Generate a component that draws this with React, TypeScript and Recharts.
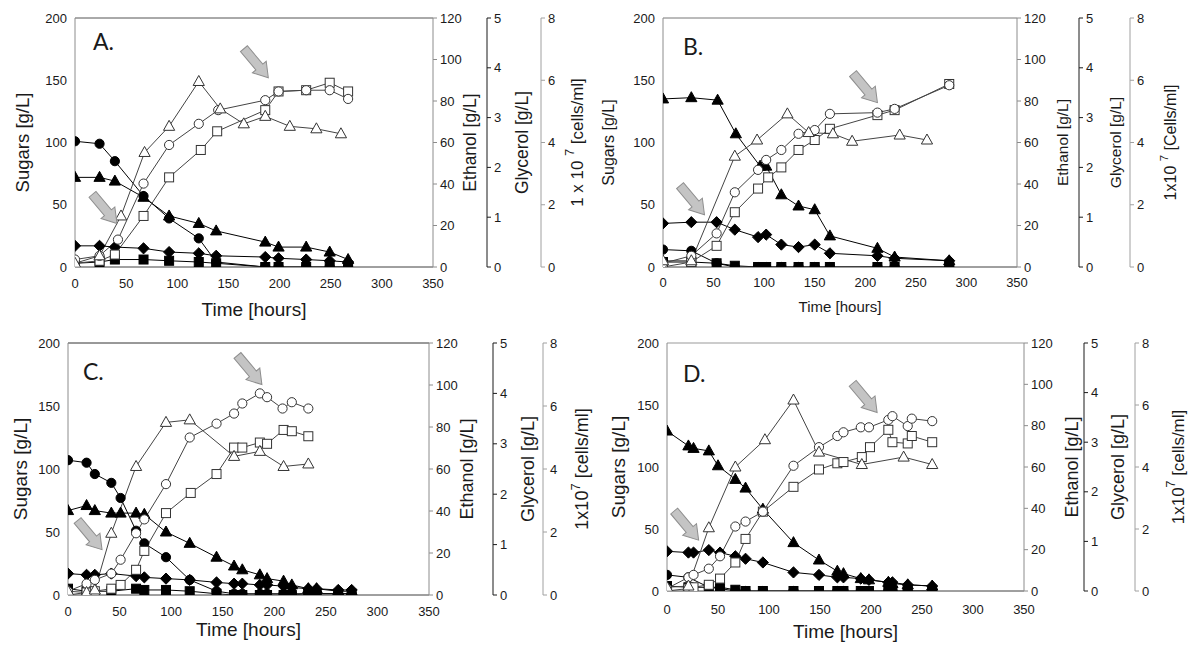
import React from "react";
import { LineChart, Line, XAxis, YAxis, ReferenceLine, ReferenceDot } from "recharts";

type Pt = [number, number];
type Kind = "circle" | "triangle" | "diamond" | "square";

// shared axes
const timeTicks = [0, 50, 100, 150, 200, 250, 300, 350];
const sugarTicks = [0, 50, 100, 150, 200];
const ethanolTicks = [0, 20, 40, 60, 80, 100, 120];
const glycerolTicks = [0, 1, 2, 3, 4, 5];
const cellTicks = [0, 2, 4, 6, 8];

// Panel A (all values read on the sugars scale, 0-200)
const aFilledCircle: Pt[] = [[0, 101], [24, 99], [39, 85], [67, 57], [92, 39], [121, 23], [138, 4], [186, 0], [199, 0], [226, 0], [249, 0], [267, 0]];
const aFilledTri: Pt[] = [[0, 72], [24, 72], [39, 69], [67, 56], [92, 41], [121, 35], [138, 29], [186, 20], [199, 16], [226, 16], [249, 12], [267, 6]];
const aFilledDiamond: Pt[] = [[0, 17], [24, 17], [39, 16], [67, 15], [92, 12], [121, 11], [138, 9], [186, 8], [199, 7], [226, 6], [249, 5], [267, 4]];
const aFilledSquare: Pt[] = [[0, 3], [24, 4], [39, 6], [67, 6], [92, 5], [121, 4], [138, 3], [186, 0], [199, 0], [226, 0], [249, 0], [267, 0]];
const aOpenCircle: Pt[] = [[0, 6], [24, 9], [42, 22], [67, 67], [92, 98], [121, 115], [140, 126], [186, 134], [199, 141], [226, 142], [249, 142], [267, 135]];
const aOpenTri: Pt[] = [[0, 3], [24, 9], [45, 41], [68, 92], [92, 113], [121, 149], [142, 127], [165, 115], [186, 121], [210, 113], [236, 111], [260, 107]];
const aOpenSquare: Pt[] = [[0, 3], [24, 5], [39, 10], [67, 41], [92, 72], [123, 94], [139, 109], [186, 126], [199, 141], [226, 142], [249, 148], [267, 141]];
const aArrows: Pt[] = [[41, 35], [189, 152]];

// Panel B
const bFilledCircle: Pt[] = [[0, 14], [28, 13], [53, 3], [71, 0], [94, 0], [102, 0], [117, 0], [134, 0], [150, 0], [165, 0], [212, 0], [229, 0], [283, 0]];
const bFilledTri: Pt[] = [[0, 135], [28, 136], [54, 134], [72, 107], [96, 81], [102, 81], [117, 58], [134, 49], [150, 46], [165, 25], [212, 15], [229, 8], [283, 5]];
const bFilledDiamond: Pt[] = [[0, 35], [28, 36], [53, 36], [71, 30], [94, 24], [102, 26], [117, 18], [134, 16], [150, 18], [165, 11], [212, 9], [229, 7], [283, 5]];
const bFilledSquare: Pt[] = [[0, 4], [28, 4], [53, 3], [71, 1], [94, 0], [102, 0], [117, 0], [134, 0], [150, 0], [165, 0], [212, 0], [229, 0], [283, 0]];
const bOpenCircle: Pt[] = [[0, 3], [28, 9], [53, 27], [71, 60], [94, 78], [102, 86], [117, 94], [134, 107], [150, 110], [165, 123], [212, 124], [229, 127], [283, 146]];
const bOpenTri: Pt[] = [[0, 5], [28, 5], [71, 89], [93, 102], [123, 123], [144, 108], [168, 107], [187, 101], [234, 106], [261, 102]];
const bOpenSquare: Pt[] = [[0, 0], [28, 4], [53, 17], [71, 44], [94, 63], [104, 72], [117, 80], [134, 94], [150, 102], [165, 111], [212, 122], [229, 126], [283, 147]];
const bArrows: Pt[] = [[41, 42], [212, 132]];

// Panel C
const cFilledCircle: Pt[] = [[0, 107], [18, 105], [26, 96], [42, 89], [51, 77], [66, 51], [74, 41], [95, 30], [118, 12], [144, 3], [161, 1], [169, 1], [186, 1], [193, 1], [209, 1], [217, 1], [233, 1], [241, 1], [262, 1], [275, 1]];
const cFilledTri: Pt[] = [[0, 67], [18, 71], [26, 67], [42, 65], [51, 65], [66, 65], [74, 64], [95, 50], [118, 41], [144, 30], [161, 23], [169, 20], [186, 16], [193, 13], [209, 11], [217, 8], [233, 5], [241, 5], [262, 3], [275, 3]];
const cFilledDiamond: Pt[] = [[0, 17], [18, 16], [26, 16], [42, 17], [66, 15], [74, 14], [95, 13], [118, 12], [144, 10], [161, 9], [169, 9], [186, 8], [193, 8], [209, 7], [217, 6], [233, 5], [241, 5], [262, 4], [275, 4]];
const cFilledSquare: Pt[] = [[0, 5], [18, 3], [42, 3], [66, 5], [74, 4], [95, 4], [118, 3], [144, 1], [161, 0], [169, 0], [186, 0], [193, 0], [209, 0], [217, 0], [233, 1], [241, 1], [262, 1], [275, 1]];
const cOpenCircle: Pt[] = [[0, 3], [18, 9], [26, 12], [42, 17], [51, 28], [66, 49], [74, 60], [95, 88], [118, 125], [144, 136], [161, 144], [169, 152], [186, 160], [193, 157], [208, 148], [217, 153], [233, 148]];
const cOpenTri: Pt[] = [[0, 3], [18, 2], [26, 4], [42, 49], [66, 102], [95, 137], [118, 139], [161, 110], [186, 114], [209, 102], [233, 104]];
const cOpenSquare: Pt[] = [[0, 0], [18, 2], [26, 3], [42, 5], [51, 8], [66, 20], [74, 35], [95, 65], [119, 81], [144, 96], [161, 117], [169, 117], [186, 121], [193, 120], [209, 131], [217, 130], [233, 126]];
const cArrows: Pt[] = [[33, 36], [188, 167]];

// Panel D
const dFilledCircle: Pt[] = [[0, 13], [21, 11], [41, 3], [52, 2], [67, 0], [77, 0], [94, 0], [124, 0], [149, 0], [167, 0], [173, 0], [190, 0], [198, 0], [217, 0], [221, 0], [236, 0], [260, 0]];
const dFilledTri: Pt[] = [[0, 129], [21, 117], [26, 115], [41, 113], [50, 101], [67, 90], [77, 83], [94, 66], [124, 39], [149, 25], [167, 16], [173, 14], [190, 10], [198, 9], [217, 7], [221, 6], [236, 5], [260, 4]];
const dFilledDiamond: Pt[] = [[0, 32], [21, 31], [26, 31], [41, 33], [52, 31], [67, 28], [77, 26], [94, 23], [124, 15], [149, 13], [167, 11], [173, 11], [190, 10], [198, 9], [217, 7], [221, 7], [236, 5], [260, 4]];
const dFilledSquare: Pt[] = [[0, 4], [21, 3], [41, 3], [52, 3], [67, 1], [77, 0], [94, 0], [124, 0], [149, 0], [167, 0], [173, 0], [190, 0], [198, 0], [217, 0], [221, 0], [236, 0], [260, 0]];
const dOpenCircle: Pt[] = [[0, 2], [21, 11], [26, 13], [41, 18], [52, 28], [67, 52], [77, 56], [94, 64], [124, 101], [149, 116], [167, 125], [173, 128], [190, 132], [198, 132], [217, 138], [221, 141], [236, 133], [240, 139], [260, 137]];
const dOpenTri: Pt[] = [[0, 3], [21, 4], [41, 51], [67, 100], [96, 122], [124, 154], [149, 112], [191, 102], [232, 108], [260, 102]];
const dOpenSquare: Pt[] = [[0, 0], [21, 2], [26, 3], [41, 5], [52, 10], [67, 23], [77, 42], [94, 64], [124, 84], [149, 98], [167, 103], [173, 104], [191, 108], [199, 116], [217, 130], [221, 120], [236, 119], [240, 125], [260, 120]];
const dArrows: Pt[] = [[31, 41], [206, 144]];

const FONT = '"Liberation Sans", Arial, Helvetica, sans-serif';

interface Series {
  pts: Pt[];
  kind: Kind;
  filled: boolean;
}

const seriesOf = (
  fc: Pt[], ft: Pt[], fd: Pt[], fs: Pt[], oc: Pt[], ot: Pt[], os: Pt[]
): Series[] => [
  { pts: fs, kind: "square", filled: true },
  { pts: fd, kind: "diamond", filled: true },
  { pts: fc, kind: "circle", filled: true },
  { pts: ft, kind: "triangle", filled: true },
  { pts: os, kind: "square", filled: false },
  { pts: oc, kind: "circle", filled: false },
  { pts: ot, kind: "triangle", filled: false },
];

const Marker = ({ cx, cy, kind, filled }: { cx?: number; cy?: number; kind: Kind; filled: boolean }) => {
  if (cx == null || cy == null) return null;
  const fill = filled ? "#000" : "#fff";
  const stroke = filled ? "#000" : "#333";
  const common = { fill, stroke, strokeWidth: 1 };
  if (kind === "circle") return <circle cx={cx} cy={cy} r={4.6} {...common} />;
  if (kind === "square") return <rect x={cx - 4.5} y={cy - 4.5} width={9} height={9} {...common} />;
  if (kind === "triangle")
    return <polygon points={`${cx},${cy - 6} ${cx + 5.6},${cy + 4} ${cx - 5.6},${cy + 4}`} {...common} />;
  return <polygon points={`${cx},${cy - 5.6} ${cx + 5.6},${cy} ${cx},${cy + 5.6} ${cx - 5.6},${cy}`} {...common} />;
};

// grey block arrow, tip at (cx, cy), pointing down-right
const Arrow = (p: any) => {
  const { cx, cy } = p;
  if (cx == null || cy == null) return null;
  return (
    <polygon
      transform={`translate(${cx},${cy}) rotate(50)`}
      points="0,0 -14,-9 -14,-4.5 -38,-4.5 -38,4.5 -14,4.5 -14,9"
      fill="#c4c4c4"
      stroke="#8e8e8e"
      strokeWidth={1}
    />
  );
};

const sideLabel = (parts: React.ReactNode, dx: number, size: number) => (props: any) => {
  const vb = props.viewBox || {};
  const x = vb.x + dx;
  const y = vb.y + vb.height / 2;
  return (
    <text
      x={x}
      y={y}
      transform={`rotate(-90 ${x} ${y})`}
      textAnchor="middle"
      dominantBaseline="central"
      fontSize={size}
      fontFamily={FONT}
      fill="#1a1a1a"
    >
      {parts}
    </text>
  );
};

const bottomLabel = (text: string, dy: number, size: number) => (props: any) => {
  const vb = props.viewBox || {};
  return (
    <text
      x={vb.x + vb.width / 2}
      y={vb.y + dy}
      textAnchor="middle"
      dominantBaseline="central"
      fontSize={size}
      fontFamily={FONT}
      fill="#1a1a1a"
    >
      {text}
    </text>
  );
};

const cellsText = (pre: string, post: string, size: number) => (
  <>
    <tspan>{pre}</tspan>
    <tspan dy={-size * 0.4} fontSize={size * 0.72}>7</tspan>
    <tspan dy={size * 0.4}>{post}</tspan>
  </>
);

interface PanelProps {
  letter: string;
  left: number;
  top: number;
  width: number;
  height: number;
  margin: { top: number; right: number; bottom: number; left: number };
  xH: number;
  leftW: number;
  rightW: [number, number, number];
  labelDx: [number, number, number, number];
  // font sizes: sugars, ethanol, glycerol, cells, time
  sizes: [number, number, number, number, number];
  timeDy: number;
  tickGap: number;
  cells: [string, string];
  borderColor: string;
  series: Series[];
  arrows: Pt[];
  letterPos: [number, number];
}

const tickStyle = { fontSize: 13, fontFamily: FONT, fill: "#1a1a1a" };

const Panel = (p: PanelProps) => (
  <>
    <div style={{ position: "absolute", left: p.left, top: p.top }}>
      <LineChart width={p.width} height={p.height} margin={p.margin}>
        <XAxis
          type="number"
          dataKey="x"
          domain={[0, 350]}
          ticks={timeTicks}
          allowDataOverflow
          height={p.xH}
          stroke="#404040"
          tickLine={false}
          tickSize={0}
          tickMargin={p.tickGap}
          tick={tickStyle}
          label={{ content: bottomLabel("Time [hours]", p.timeDy, p.sizes[4]) } as any}
        />
        <YAxis
          yAxisId="s"
          type="number"
          domain={[0, 200]}
          ticks={sugarTicks}
          allowDataOverflow
          width={p.leftW}
          stroke="#8c8c8c"
          tickLine={false}
          tickSize={0}
          tickMargin={8}
          tick={tickStyle}
          label={{ content: sideLabel("Sugars [g/L]", p.labelDx[0], p.sizes[0]) } as any}
        />
        <YAxis
          yAxisId="r1"
          orientation="right"
          type="number"
          domain={[0, 120]}
          ticks={ethanolTicks}
          allowDataOverflow
          width={p.rightW[0]}
          stroke="#8c8c8c"
          tickSize={4}
          tickMargin={3}
          tick={tickStyle}
          label={{ content: sideLabel("Ethanol [g/L]", p.labelDx[1], p.sizes[1]) } as any}
        />
        <YAxis
          yAxisId="r2"
          orientation="right"
          type="number"
          domain={[0, 5]}
          ticks={glycerolTicks}
          allowDataOverflow
          width={p.rightW[1]}
          stroke="#1a1a1a"
          tickSize={4}
          tickMargin={3}
          tick={tickStyle}
          label={{ content: sideLabel("Glycerol [g/L]", p.labelDx[2], p.sizes[2]) } as any}
        />
        <YAxis
          yAxisId="r3"
          orientation="right"
          type="number"
          domain={[0, 8]}
          ticks={cellTicks}
          allowDataOverflow
          width={p.rightW[2]}
          stroke="#a0a0a0"
          tickSize={4}
          tickMargin={3}
          tick={tickStyle}
          label={{ content: sideLabel(cellsText(p.cells[0], p.cells[1], p.sizes[3]), p.labelDx[3], p.sizes[3]) } as any}
        />
        <ReferenceLine yAxisId="s" y={200} stroke={p.borderColor} strokeWidth={1} ifOverflow="visible" />
        {p.series.map((s, i) => (
          <Line
            key={`${p.letter}-${i}`}
            yAxisId="s"
            data={s.pts.map(([x, y]) => ({ x, y }))}
            dataKey="y"
            type="linear"
            stroke={s.filled ? "#000" : "#444"}
            strokeWidth={1}
            isAnimationActive={false}
            activeDot={false}
            legendType="none"
            dot={(d: any) => (
              <Marker key={`${p.letter}-${i}-${d.index}`} cx={d.cx} cy={d.cy} kind={s.kind} filled={s.filled} />
            )}
          />
        ))}
        {p.arrows.map(([x, y], i) => (
          <ReferenceDot key={`arr-${i}`} yAxisId="s" x={x} y={y} r={0} ifOverflow="visible" shape={Arrow} />
        ))}
      </LineChart>
    </div>
    <div
      style={{
        position: "absolute",
        left: p.letterPos[0],
        top: p.letterPos[1],
        fontFamily: "Lato, 'Open Sans', sans-serif",
        fontSize: 23,
        lineHeight: 1,
        color: "#1a1a1a",
      }}
    >
      {p.letter}
    </div>
  </>
);

export default function App() {
  return (
    <div style={{ position: "absolute", left: 0, top: 0, width: 1200, height: 659, background: "#fff" }}>
      <Panel
        letter="A."
        left={0}
        top={0}
        width={600}
        height={325}
        margin={{ top: 18, right: 9, bottom: 8, left: 0 }}
        xH={50}
        leftW={75}
        rightW={[54, 54, 50]}
        labelDx={[22, 37, 35, 36]}
        sizes={[18.5, 17.5, 17.5, 17, 19]}
        timeDy={42}
        tickGap={12}
        cells={["1 x 10 ", " [cells/ml]"]}
        borderColor="#555"
        series={seriesOf(aFilledCircle, aFilledTri, aFilledDiamond, aFilledSquare, aOpenCircle, aOpenTri, aOpenSquare)}
        arrows={aArrows}
        letterPos={[93, 30]}
      />
      <Panel
        letter="B."
        left={590}
        top={0}
        width={610}
        height={325}
        margin={{ top: 18, right: 20, bottom: 8, left: 0 }}
        xH={50}
        leftW={73}
        rightW={[62, 51, 50]}
        labelDx={[18, 45, 36, 40]}
        sizes={[16, 15.5, 15.5, 16, 15]}
        timeDy={39}
        tickGap={11}
        cells={["1x10 ", " [Cells/ml]"]}
        borderColor="#777"
        series={seriesOf(bFilledCircle, bFilledTri, bFilledDiamond, bFilledSquare, bOpenCircle, bOpenTri, bOpenSquare)}
        arrows={bArrows}
        letterPos={[683, 35]}
      />
      <Panel
        letter="C."
        left={0}
        top={320}
        width={600}
        height={330}
        margin={{ top: 23, right: 7, bottom: 10, left: 0 }}
        xH={45}
        leftW={68}
        rightW={[64, 50, 50]}
        labelDx={[20, 38, 35, 39]}
        sizes={[19, 18, 18, 18, 19]}
        timeDy={34}
        tickGap={12}
        cells={["1x10", " [cells/ml]"]}
        borderColor="#333"
        series={seriesOf(cFilledCircle, cFilledTri, cFilledDiamond, cFilledSquare, cOpenCircle, cOpenTri, cOpenSquare)}
        arrows={cArrows}
        letterPos={[83, 360]}
      />
      <Panel
        letter="D."
        left={600}
        top={320}
        width={600}
        height={330}
        margin={{ top: 23, right: 24, bottom: 14, left: 0 }}
        xH={45}
        leftW={67}
        rightW={[60, 51, 41]}
        labelDx={[18, 48, 34, 43]}
        sizes={[19, 18, 18, 17, 19]}
        timeDy={40}
        tickGap={14}
        cells={["1x10", " [cells/ml]"]}
        borderColor="#999"
        series={seriesOf(dFilledCircle, dFilledTri, dFilledDiamond, dFilledSquare, dOpenCircle, dOpenTri, dOpenSquare)}
        arrows={dArrows}
        letterPos={[683, 362]}
      />
    </div>
  );
}
